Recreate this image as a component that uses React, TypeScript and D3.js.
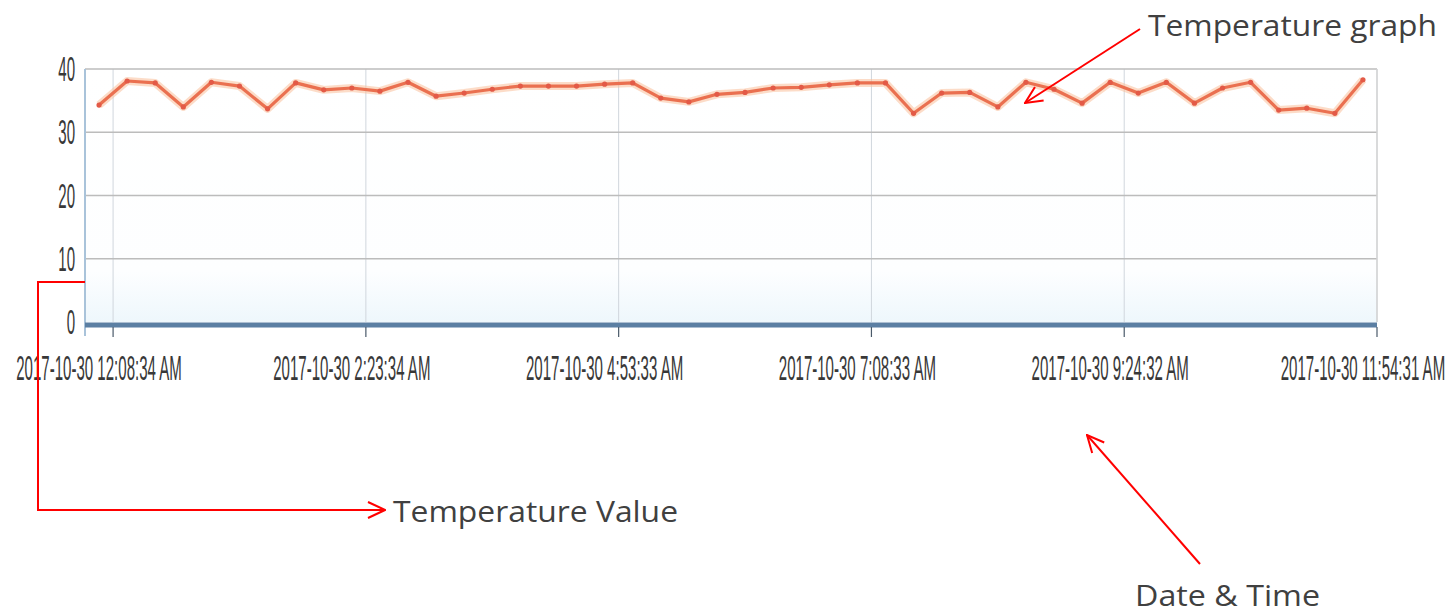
import * as d3 from 'd3';

// temperature readings, one per sample
const values = [
  34.3, 38.1, 37.8, 34.0, 37.9, 37.3, 33.7, 37.8, 36.7, 37.0,
  36.5, 37.9, 35.7, 36.2, 36.8, 37.3, 37.3, 37.3, 37.6, 37.8,
  35.4, 34.8, 36.0, 36.3, 37.0, 37.1, 37.5, 37.8, 37.8, 33.0,
  36.2, 36.3, 34.0, 37.9, 36.8, 34.6, 37.9, 36.2, 37.9, 34.6,
  37.0, 37.9, 33.5, 33.8, 33.0, 38.3,
];
const categories = values.map((_, i) => i);

const tickIndex = [0, 9, 18, 27, 36, 45];
const tickLabels = [
  '2017-10-30 12:08:34 AM',
  '2017-10-30 2:23:34 AM',
  '2017-10-30 4:53:33 AM',
  '2017-10-30 7:08:33 AM',
  '2017-10-30 9:24:32 AM',
  '2017-10-30 11:54:31 AM',
];
const yTicks = [0, 10, 20, 30, 40];

const W = 1447;
const H = 614;
const plot = { left: 85, right: 1377, top: 69, bottom: 322 };

const axisFont = '"Liberation Sans", Arial, sans-serif';
const noteFont = '"Open Sans", "Noto Sans", sans-serif';
const squeeze = 0.43;

export default function App() {
  const x = d3.scaleBand<number>().domain(categories).range([plot.left, plot.right]).padding(0);
  const y = d3.scaleLinear().domain([0, 40]).range([plot.bottom, plot.top]);
  const bw = x.bandwidth();

  const line = d3
    .line<number>()
    .x((_, i) => (x(i) as number) + bw / 2)
    .y((d) => y(d));

  return (
    <svg width={W} height={H} style={{ position: 'absolute', left: 0, top: 0, background: '#fff' }}>
      <defs>
        <linearGradient id="bg" x1="0" y1="0" x2="0" y2="1">
          <stop offset="0%" stopColor="#ffffff" />
          <stop offset="80%" stopColor="#fdfeff" />
          <stop offset="100%" stopColor="#eef7fc" />
        </linearGradient>
        <marker id="arrow" viewBox="0 0 20 20" refX="19" refY="10" markerWidth="20" markerHeight="20"
          markerUnits="userSpaceOnUse" orient="auto">
          <path d="M2,2 L19,10 L2,18" fill="none" stroke="#ff0000" strokeWidth={2} />
        </marker>
      </defs>

      {/* plot background */}
      <rect x={plot.left} y={plot.top} width={plot.right - plot.left} height={plot.bottom - plot.top} fill="url(#bg)" />

      {/* vertical grid */}
      {tickIndex.map((t) => {
        const gx = (x(t) as number) + bw;
        return <line key={'vg' + t} x1={gx} x2={gx} y1={plot.top} y2={plot.bottom} stroke="#d0d6dd" strokeWidth={1} />;
      })}

      {/* horizontal grid */}
      {yTicks.filter((t) => t > 0).map((t) => (
        <line key={'hg' + t} x1={plot.left} x2={plot.right} y1={y(t)} y2={y(t)} stroke="#bcbcbc" strokeWidth={1.6} />
      ))}
      <line x1={plot.right} x2={plot.right} y1={plot.top} y2={plot.bottom} stroke="#d4d4d4" strokeWidth={1.5} />

      {/* y axis */}
      <line x1={plot.left} x2={plot.left} y1={plot.top} y2={plot.bottom + 14} stroke="#a9c3da" strokeWidth={2} />
      {yTicks.map((t) => (
        <text key={'yl' + t} transform={`translate(75,${y(t) + 12}) scale(${squeeze},1)`} textAnchor="end"
          fontFamily={axisFont} fontSize={35} fill="#383838">
          {t}
        </text>
      ))}

      {/* x axis */}
      <line x1={plot.left} x2={plot.right} y1={plot.bottom + 3} y2={plot.bottom + 3} stroke="#5b7fa3" strokeWidth={5} />
      {tickIndex.map((t) => {
        const gx = (x(t) as number) + bw;
        return <line key={'xt' + t} x1={gx} x2={gx} y1={plot.bottom + 5} y2={plot.bottom + 15} stroke="#4a5a6a" strokeWidth={1.2} />;
      })}
      {tickIndex.map((t, i) => (
        <text key={'xl' + t} transform={`translate(${(x(t) as number) + bw / 2},380) scale(${squeeze},1)`}
          textAnchor="middle" fontFamily={axisFont} fontSize={35} fill="#383838">
          {tickLabels[i]}
        </text>
      ))}

      {/* series */}
      <path d={line(values) ?? ''} fill="none" stroke="#f9c09a" strokeOpacity={0.55} strokeWidth={8} strokeLinejoin="round" />
      <path d={line(values) ?? ''} fill="none" stroke="#ea7050" strokeWidth={3.2} strokeLinejoin="round" />
      {values.map((v, i) => (
        <circle key={'pt' + i} cx={(x(i) as number) + bw / 2} cy={y(v)} r={2.6} fill="#e35a47" />
      ))}

      {/* annotations */}
      <path d="M1140,29 L1025,103" fill="none" stroke="#ff0000" strokeWidth={2} markerEnd="url(#arrow)" />
      <text x={1148} y={36} fontFamily={noteFont} fontSize={30} fill="#404040" textLength={289} lengthAdjust="spacingAndGlyphs">
        Temperature graph
      </text>

      <path d={`M${plot.left},282 L38,282 L38,510 L385,510`} fill="none" stroke="#ff0000" strokeWidth={2} markerEnd="url(#arrow)" />
      <text x={393} y={522} fontFamily={noteFont} fontSize={30} fill="#404040" textLength={285} lengthAdjust="spacingAndGlyphs">
        Temperature Value
      </text>

      <path d="M1200,564 L1087,435" fill="none" stroke="#ff0000" strokeWidth={2} markerEnd="url(#arrow)" />
      <text x={1135} y={606} fontFamily={noteFont} fontSize={30} fill="#404040" textLength={185} lengthAdjust="spacingAndGlyphs">
        Date &amp; Time
      </text>
    </svg>
  );
}
